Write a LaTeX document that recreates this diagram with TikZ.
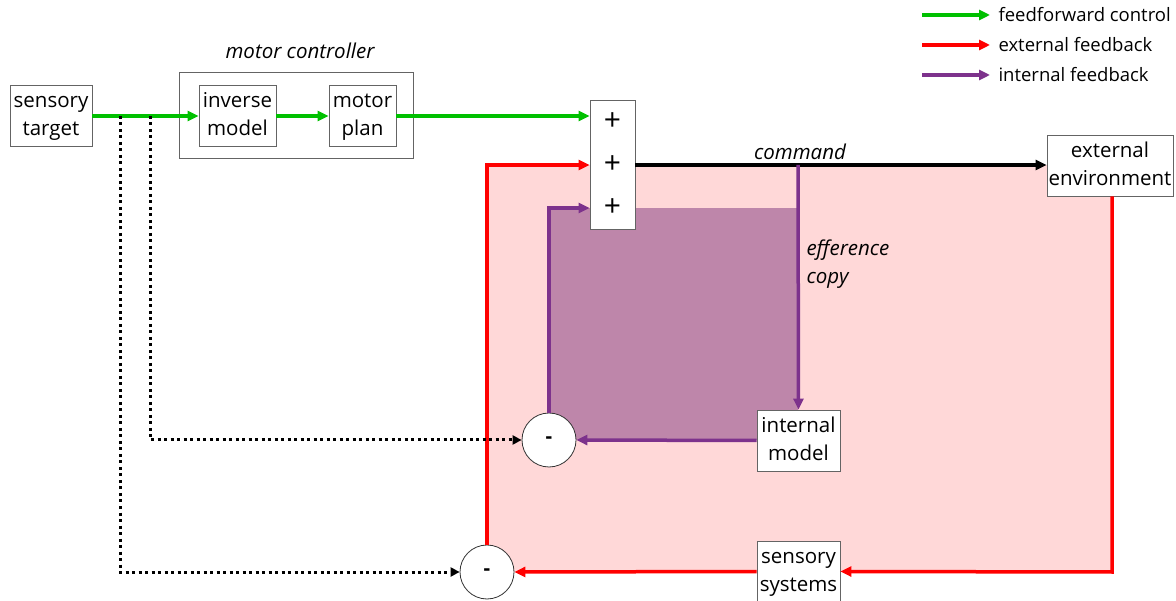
\documentclass[tikz,border=0pt]{standalone}
\usepackage{fontspec}
\setmainfont{Open Sans}
\usetikzlibrary{arrows.meta}
\definecolor{ffgreen}{RGB}{0,192,0}
\definecolor{fbred}{RGB}{255,0,0}
\definecolor{ifpurple}{RGB}{125,50,140}
\definecolor{pinkfill}{RGB}{255,216,216}
\definecolor{purplefill}{RGB}{190,134,170}
\definecolor{boxgray}{RGB}{100,100,100}
\newcommand\mlines[1]{\raisebox{-4.5pt}{\begin{tabular}{@{}c@{}}#1\end{tabular}}}
\tikzset{
  every node/.style={font=\fontsize{20.5}{28}\selectfont},
  blk/.style={draw=boxgray, line width=0.8pt, fill=white, inner sep=0pt},
  sumc/.style={draw=black!80, line width=0.8pt, fill=white, circle, minimum size=54pt, inner sep=0pt},
  tip/.style={-{Triangle[length=11pt,width=10pt]}},
  ff/.style={tip, draw=ffgreen, line width=3.5pt},
  ext/.style={tip, draw=fbred, line width=3.5pt},
  intf/.style={tip, draw=ifpurple, line width=3.5pt},
  cmd/.style={tip, draw=black, line width=3.5pt},
  dotl/.style={-{Triangle[length=9pt,width=9pt]}, draw=black, line width=3pt, dash pattern=on 3pt off 3.5pt},
  lbl/.style={font=\itshape\fontsize{20.5}{28}\selectfont},
  leg/.style={anchor=west, font=\fontsize{18.5}{22}\selectfont},
  plusl/.style={font=\fontsize{30}{30}\selectfont}
}
\begin{document}
\begin{tikzpicture}[x=1pt,y=-1pt]
\useasboundingbox (0,0) rectangle (1176,601);
% background regions
\fill[pinkfill] (487,165) rectangle (1112,572);
\fill[purplefill] (549,208) rectangle (798,440);
% outer controller box
\node[draw=boxgray, line width=0.8pt, minimum width=234pt, minimum height=86pt, inner sep=0pt] (mc) at (296,115) {};
\node[lbl] (mclbl) at (300,51) {motor controller};
% boxes
\node[blk, minimum width=82pt, minimum height=61pt] (st) at (51,115.5) {\mlines{sensory\\target}};
\node[blk, minimum width=77pt, minimum height=61pt] (im) at (237.5,115.5) {\mlines{inverse\\model}};
\node[blk, minimum width=67pt, minimum height=61pt] (mp) at (362.5,115.5) {\mlines{motor\\plan}};
\node[blk, minimum width=45pt, minimum height=129pt] (plus) at (612.5,164.5) {};
\node[plusl] (p1) at (612.5,122) {+};
\node[plusl] (p2) at (612.5,165) {+};
\node[plusl] (p3) at (612.5,208) {+};
\node[blk, minimum width=126pt, minimum height=61pt] (env) at (1110,165.5) {\mlines{external\\environment}};
\node[blk, minimum width=83pt, minimum height=61pt] (intm) at (798.5,440.5) {\mlines{internal\\model}};
\node[blk, minimum width=83pt, minimum height=61pt] (sens) at (798.5,571.5) {\mlines{sensory\\systems}};
\node[sumc] (c1) at (549,440) {\textbf{-}};
\node[sumc] (c2) at (487,572) {\textbf{-}};
% coordinates
\coordinate (b1) at (120,116);
\coordinate (b2) at (150,116);
\coordinate (ec) at (798,165);
% green feedforward
\draw[ff] (st.east |- 0,116) -- (im.west |- 0,116);
\draw[ff] (im.east |- 0,116) -- (mp.west |- 0,116);
\draw[ff] (mp.east |- 0,116) -- (plus.west |- 0,116);
% command
\draw[cmd] (plus.east |- 0,165) -- (env.west |- 0,165);
\node[lbl, anchor=base] (cmdl) at (800,160) {command};
% external feedback
\draw[ext] (env.south -| 1112,0) -- (1112,572) -- (sens.east);
\draw[ext] (sens.west) -- (c2.east);
\draw[ext] (c2.north) -- (487,165) -- (plus.west |- 0,165);
% internal feedback
\draw[intf] (ec) -- (intm.north);
\node[lbl, anchor=west, align=left] (eff) at (803,264) {efference\\copy};
\draw[intf] (intm.west) -- (c1.east);
\draw[intf] (c1.north) -- (549,208) -- (plus.west |- 0,208);
% dotted
\draw[dotl] (b1) -- (120,572) -- (c2.west);
\draw[dotl] (b2) -- (150,440) -- (c1.west);
% legend
\coordinate (l1a) at (922,15); \coordinate (l1b) at (990,15);
\coordinate (l2a) at (922,45); \coordinate (l2b) at (990,45);
\coordinate (l3a) at (922,75); \coordinate (l3b) at (990,75);
\draw[ff] (l1a) -- (l1b);
\draw[ext] (l2a) -- (l2b);
\draw[intf] (l3a) -- (l3b);
\node[leg] (t1) at (995,15) {feedforward control};
\node[leg] (t2) at (995,45) {external feedback};
\node[leg] (t3) at (995,75) {internal feedback};
\end{tikzpicture}
\end{document}
